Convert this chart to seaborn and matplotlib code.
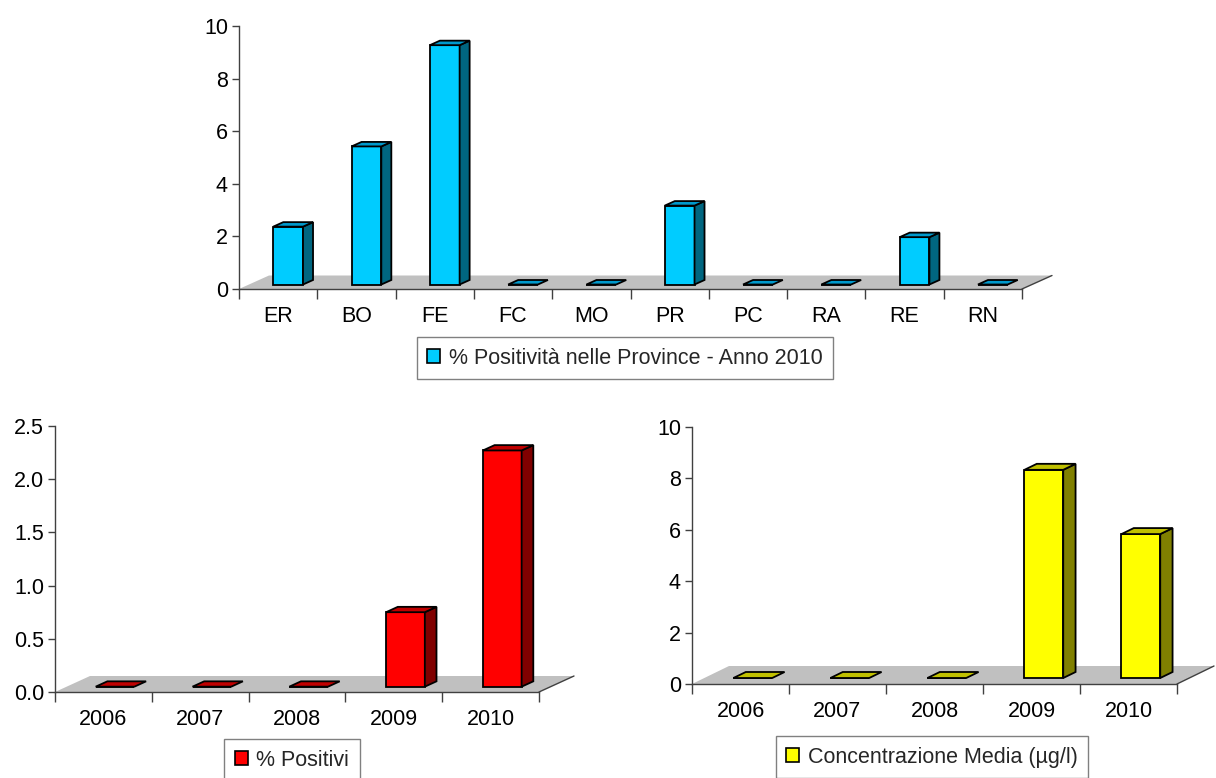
import matplotlib
matplotlib.use("Agg")
import matplotlib.pyplot as plt
import numpy as np
import pandas as pd
import seaborn as sns
from matplotlib.patches import Polygon, Patch
from matplotlib.lines import Line2D
from matplotlib.transforms import IdentityTransform, ScaledTranslation
from matplotlib.ticker import FixedLocator, FormatStrFormatter

# Positivity by province, 2010
province_codes = ["ER", "BO", "FE", "FC", "MO", "PR", "PC", "RA", "RE", "RN"]
province_positivity = [2.2, 5.25, 9.1, 0, 0, 3.0, 0, 0, 1.8, 0]

# Yearly series
years = ["2006", "2007", "2008", "2009", "2010"]
positive_pct = [0, 0, 0, 0.70, 2.22]
mean_concentration = [0, 0, 0, 8.1, 5.6]

legend_province = "% Positività nelle Province - Anno 2010"
legend_positive = "% Positivi"
legend_conc = "Concentrazione Media (µg/l)"

sns.set_theme(style="ticks")
plt.rcParams["font.family"] = ["Liberation Sans", "DejaVu Sans"]

W, H = 1216, 778
DPI = 100
fig = plt.figure(figsize=(W / DPI, H / DPI), dpi=DPI)
fig.patch.set_facecolor("white")

AXIS_COLOR = "#404040"
FONT_SIZE = 15.5


def px_axes(left, top, right, bottom):
    return fig.add_axes([left / W, 1 - bottom / H, (right - left) / W, (bottom - top) / H])


def draw_3d_bars(ax, data, xcol, ycol, colors, width, depth, ymax, ystep, fmt):
    front, side, top = colors
    n = len(data)
    sns.barplot(data=data, x=xcol, y=ycol, ax=ax, color=front, width=width,
                saturation=1, edgecolor="black", linewidth=1.3, zorder=3)
    bars = list(ax.patches)
    ax.set_xlim(-0.5, n - 0.5)
    ax.set_ylim(0, ymax)
    ax.set_autoscale_on(False)
    ax.set_xlabel("")
    ax.set_ylabel("")
    ax.set_facecolor("none")

    # axes styling
    for s in ("top", "right"):
        ax.spines[s].set_visible(False)
    for s in ("left", "bottom"):
        ax.spines[s].set_color(AXIS_COLOR)
        ax.spines[s].set_linewidth(1.0)
    ax.set_yticks(np.arange(0, ymax + ystep / 2, ystep))
    ax.yaxis.set_major_formatter(FormatStrFormatter(fmt))
    ax.tick_params(axis="y", length=5, width=1, color=AXIS_COLOR, pad=3,
                   labelsize=FONT_SIZE, labelcolor="black")
    ax.tick_params(axis="x", which="major", length=0, pad=12,
                   labelsize=FONT_SIZE, labelcolor="black")
    ax.xaxis.set_minor_locator(FixedLocator(np.arange(-0.5, n, 1.0)))
    ax.tick_params(axis="x", which="minor", length=7, width=1, color=AXIS_COLOR)

    dx, dy = depth
    fx, fy = dx / 3.0, dy / 3.0     # bar front sits a third of the way into the floor
    bx, by = dx / 3.0, dy / 3.0     # bar depth
    T = ax.transData

    # floor
    x0, y0 = T.transform((-0.5, 0))
    x1, _ = T.transform((n - 0.5, 0))
    floor = Polygon([(x0, y0), (x1, y0), (x1 + dx, y0 + dy), (x0 + dx, y0 + dy)],
                    closed=True, transform=IdentityTransform(), facecolor="#C0C0C0",
                    edgecolor="none", zorder=1, clip_on=False)
    ax.add_artist(floor)
    edge = Line2D([x1, x1 + dx], [y0, y0 + dy], transform=IdentityTransform(),
                  color=AXIS_COLOR, lw=1.0, zorder=2, clip_on=False)
    ax.add_artist(edge)

    shift = ScaledTranslation(fx / DPI, fy / DPI, fig.dpi_scale_trans)
    d = np.array((bx, by))
    for p in bars:
        x, w, h = p.get_x(), p.get_width(), p.get_height()
        p.set_transform(T + shift)
        p.set_clip_on(False)
        br = np.array(T.transform((x + w, 0))) + (fx, fy)
        tl = np.array(T.transform((x, h))) + (fx, fy)
        tr = np.array(T.transform((x + w, h))) + (fx, fy)
        if h > 0:
            side_face = Polygon([br, tr, tr + d, br + d], closed=True,
                                transform=IdentityTransform(), facecolor=side,
                                edgecolor="black", linewidth=1.3, zorder=3,
                                clip_on=False, joinstyle="miter")
            ax.add_artist(side_face)
        top_face = Polygon([tl, tr, tr + d, tl + d], closed=True,
                           transform=IdentityTransform(), facecolor=top,
                           edgecolor="black", linewidth=1.3, zorder=3,
                           clip_on=False, joinstyle="miter")
        ax.add_artist(top_face)


def add_legend(label, color, cx, cy):
    handle = Patch(facecolor=color, edgecolor="black", linewidth=1.2, label=label)
    leg = fig.legend(handles=[handle], loc="center", bbox_to_anchor=(cx / W, 1 - cy / H),
                     frameon=True, fancybox=False, fontsize=FONT_SIZE,
                     handlelength=0.6, handleheight=0.6, handletextpad=0.4,
                     borderpad=0.5, borderaxespad=0)
    fr = leg.get_frame()
    fr.set_edgecolor("#808080")
    fr.set_linewidth(1.0)
    fr.set_facecolor("white")
    fr.set_alpha(1)
    return leg


df_prov = pd.DataFrame({"provincia": province_codes, "valore": province_positivity})
df_pos = pd.DataFrame({"anno": years, "valore": positive_pct})
df_conc = pd.DataFrame({"anno": years, "valore": mean_concentration})

ax_top = px_axes(239, 26, 1022, 289)
draw_3d_bars(ax_top, df_prov, "provincia", "valore",
             ("#00CCFF", "#006680", "#0099CC"), 0.38, (30, 13.5), 10, 2, "%d")

ax_bl = px_axes(55, 426, 539, 692)
draw_3d_bars(ax_bl, df_pos, "anno", "valore",
             ("#FF0000", "#800000", "#C00000"), 0.40, (35, 16), 2.5, 0.5, "%.1f")

ax_br = px_axes(692, 427, 1177, 684)
draw_3d_bars(ax_br, df_conc, "anno", "valore",
             ("#FFFF00", "#808000", "#C0C000"), 0.40, (37, 18), 10, 2, "%d")

add_legend(legend_province, "#00CCFF", 625, 358)
add_legend(legend_positive, "#FF0000", 292, 760)
add_legend(legend_conc, "#FFFF00", 932, 757)

fig.savefig("out.png", dpi=DPI)
